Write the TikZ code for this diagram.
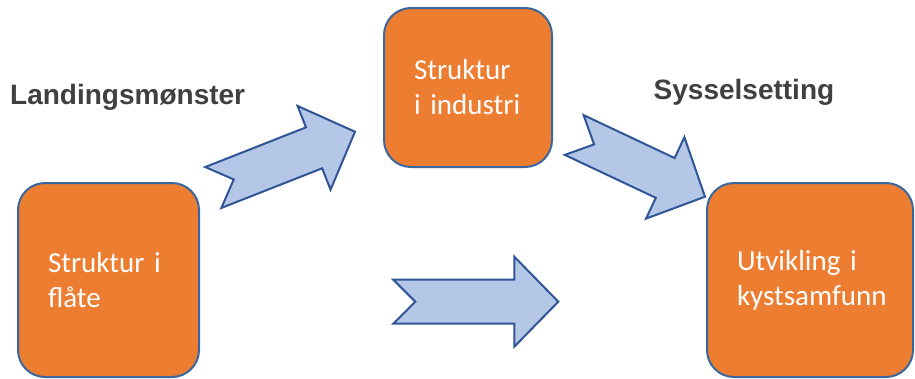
\documentclass[tikz,border=0pt]{standalone}
\usepackage{fontspec}
\setmainfont{Carlito}
\newfontfamily\headfont{Liberation Sans}
\usetikzlibrary{positioning,calc}
\definecolor{boxorange}{HTML}{ED7D31}
\definecolor{boxline}{HTML}{3A67A0}
\definecolor{arrowfill}{HTML}{B4C7E7}
\definecolor{arrowline}{HTML}{2F5597}
\definecolor{headgray}{HTML}{404040}

% block arrow with notched tail: #1 tail, #2 tip
\newcommand{\notcharrow}[2]{%
  \coordinate (hb) at ($(#2)!44pt!(#1)$);
  \coordinate (nt) at ($(#1)!22pt!(#2)$);
  \draw[blockarrow]
    ($(#1)!22pt!90:(#2)$) -- ($(hb)!22pt!90:(#2)$) -- ($(hb)!45pt!90:(#2)$)
    -- (#2) -- ($(hb)!45pt!-90:(#2)$) -- ($(hb)!22pt!-90:(#2)$)
    -- ($(#1)!22pt!-90:(#2)$) -- (nt) -- cycle;}

\begin{document}
\begin{tikzpicture}[x=1pt, y=-1pt,
  stepbox/.style={draw=boxline, fill=boxorange, line width=2pt,
                  rounded corners=27pt, inner xsep=30pt, inner ysep=0pt,
                  align=left, text=white,
                  font=\fontsize{29}{35}\selectfont},
  blockarrow/.style={draw=arrowline, fill=arrowfill, line width=2pt,
                     line join=miter},
  heading/.style={anchor=base west, inner sep=0pt, text=headgray,
                  font=\headfont\bfseries\fontsize{28}{32}\selectfont}
]
  \useasboundingbox (0,0) rectangle (915,378);

  % --- Boxes ---
  \node[stepbox, text width=121pt, minimum height=194pt] (flate)
    at (108.5, 280) {Struktur i\\fl\aa te};
  \node[stepbox, text width=108pt, minimum height=159pt] (industri)
    at (468, 87.5) {Struktur\\i industri};
  \node[stepbox, text width=146pt, minimum height=194pt] (kyst)
    at (810, 280) {Utvikling i\\kystsamfunn};

  % --- Headings ---
  \node[heading] (landing) at (10, 104.3) {Landingsmønster};
  \node[heading] (syssel) at (653.5, 99.3) {Sysselsetting};

  % --- Arrow ends ---
  \coordinate (a1tail) at (213.3, 187.5);
  \coordinate (a1tip)  at (355, 131.7);
  \coordinate (a2tail) at (574.2, 135);
  \coordinate (a2tip)  at (705, 196.7);
  \coordinate (a3tail) at (393.3, 301.7);
  \coordinate (a3tip)  at (558.3, 301.7);

  % --- Arrows ---
  \notcharrow{a1tail}{a1tip}
  \notcharrow{a2tail}{a2tip}
  \notcharrow{a3tail}{a3tip}
\end{tikzpicture}
\end{document}
